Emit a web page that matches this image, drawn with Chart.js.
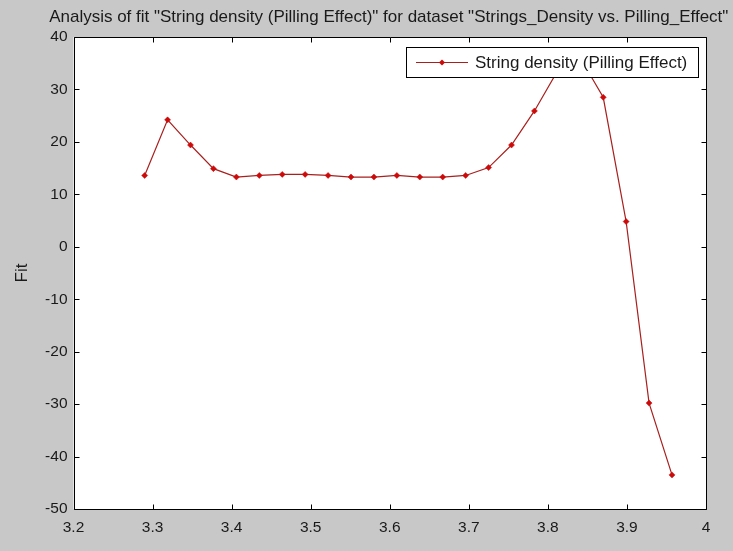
<!DOCTYPE html>
<html>
<head>
<meta charset="utf-8">
<script src="https://cdn.jsdelivr.net/npm/chart.js@4.4.1/dist/chart.umd.min.js"></script>
<style>
  html, body { margin: 0; padding: 0; background: #c8c8c8; }
  #wrap { width: 733px; height: 551px; }
</style>
</head>
<body>
<div id="wrap"><canvas id="c" width="733" height="551"></canvas></div>
<script>
// String density sample points and the fitted values
const xValues = [3.290, 3.319, 3.348, 3.377, 3.406, 3.435, 3.464, 3.493, 3.522, 3.551, 3.580, 3.609,
                 3.638, 3.667, 3.696, 3.725, 3.754, 3.783, 3.812, 3.841, 3.870, 3.899, 3.928, 3.957];
const fitValues = [13.6, 24.2, 19.4, 14.9, 13.3, 13.6, 13.8, 13.8, 13.6, 13.3, 13.3, 13.6,
                   13.3, 13.3, 13.6, 15.1, 19.4, 25.9, 33.5, 36.0, 28.5, 4.8, -29.8, -43.5];
const xTicks = [3.2, 3.3, 3.4, 3.5, 3.6, 3.7, 3.8, 3.9, 4];
const yTicks = [-50, -40, -30, -20, -10, 0, 10, 20, 30, 40];

const seriesName = 'String density (Pilling Effect)';
const titleText = 'Analysis of fit "String density (Pilling Effect)" for dataset "Strings_Density vs. Pilling_Effect"';
const yAxisName = 'Fit';

const FONT = '"Liberation Sans", Arial, sans-serif';
const LINE_COLOR = '#a8201e';
const MARK_COLOR = '#cc0a0a';
const TEXT_COLOR = '#1a1a1a';

const points = xValues.map((x, i) => ({ x: x, y: fitValues[i] }));

// Axes box, inward ticks on all four sides, title and boxed legend
const framePlugin = {
  id: 'frame',
  beforeDraw(chart) {
    const { ctx, chartArea: a } = chart;
    ctx.save();
    ctx.fillStyle = '#c8c8c8';
    ctx.fillRect(0, 0, chart.width, chart.height);
    ctx.fillStyle = '#ffffff';
    ctx.fillRect(a.left, a.top, a.right - a.left, a.bottom - a.top);
    ctx.restore();
  },
  afterDatasetsDraw(chart) {
    const { ctx, chartArea: a, scales } = chart;
    ctx.save();
    ctx.strokeStyle = '#000';
    ctx.lineWidth = 1;
    const L = Math.round(a.left) + 0.5, R = Math.round(a.right) + 0.5;
    const T = Math.round(a.top) + 0.5, B = Math.round(a.bottom) + 0.5;
    ctx.beginPath();
    ctx.rect(L, T, R - L, B - T);
    const tl = 5;
    xTicks.forEach(v => {
      const px = Math.round(scales.x.getPixelForValue(v)) + 0.5;
      ctx.moveTo(px, B); ctx.lineTo(px, B - tl);
      ctx.moveTo(px, T); ctx.lineTo(px, T + tl);
    });
    yTicks.forEach(v => {
      const py = Math.round(scales.y.getPixelForValue(v)) + 0.5;
      ctx.moveTo(L, py); ctx.lineTo(L + tl, py);
      ctx.moveTo(R, py); ctx.lineTo(R - tl, py);
    });
    ctx.stroke();
    ctx.restore();
  },
  afterDraw(chart) {
    const { ctx, chartArea: a } = chart;
    ctx.save();
    // title
    ctx.fillStyle = TEXT_COLOR;
    ctx.font = '17px ' + FONT;
    ctx.textAlign = 'center';
    ctx.textBaseline = 'middle';
    ctx.fillText(titleText, (a.left + a.right) / 2 - 1, 17);

    // legend
    const bx = 406.5, by = 47.5, bw = 292, bh = 30;
    ctx.fillStyle = '#ffffff';
    ctx.fillRect(bx, by, bw, bh);
    ctx.strokeStyle = '#000';
    ctx.lineWidth = 1;
    ctx.strokeRect(bx, by, bw, bh);
    const ly = by + bh / 2;
    ctx.strokeStyle = LINE_COLOR;
    ctx.lineWidth = 1.2;
    ctx.beginPath();
    ctx.moveTo(416, ly); ctx.lineTo(468, ly);
    ctx.stroke();
    ctx.fillStyle = MARK_COLOR;
    ctx.beginPath();
    ctx.moveTo(442, ly - 3); ctx.lineTo(445, ly); ctx.lineTo(442, ly + 3); ctx.lineTo(439, ly);
    ctx.closePath();
    ctx.fill();
    ctx.fillStyle = TEXT_COLOR;
    ctx.font = '17px ' + FONT;
    ctx.textAlign = 'left';
    ctx.textBaseline = 'middle';
    ctx.fillText(seriesName, 475, ly + 0.5);
    ctx.restore();
  }
};

new Chart(document.getElementById('c'), {
  type: 'scatter',
  data: {
    datasets: [{
      label: seriesName,
      data: points,
      showLine: true,
      borderColor: LINE_COLOR,
      borderWidth: 1.2,
      backgroundColor: MARK_COLOR,
      pointBackgroundColor: MARK_COLOR,
      pointBorderColor: MARK_COLOR,
      pointStyle: 'rectRot',
      pointRadius: 3,
      pointBorderWidth: 0.5,
      tension: 0
    }]
  },
  options: {
    responsive: false,
    animation: false,
    devicePixelRatio: 1,
    layout: { padding: { top: 37, right: 27, left: 0, bottom: 0 } },
    plugins: {
      legend: { display: false },
      tooltip: { enabled: false },
      title: { display: false }
    },
    scales: {
      x: {
        type: 'linear',
        min: 3.2, max: 4,
        grid: { display: false, drawTicks: false, tickLength: 0 },
        border: { display: false },
        afterFit(s) { s.height = 42; },
        afterBuildTicks(s) { s.ticks = xTicks.map(v => ({ value: v })); },
        ticks: {
          color: TEXT_COLOR,
          font: { family: FONT, size: 15.5 },
          padding: 9,
          maxRotation: 0,
          callback: v => String(v)
        }
      },
      y: {
        type: 'linear',
        min: -50, max: 40,
        grid: { display: false, drawTicks: false, tickLength: 0 },
        border: { display: false },
        afterFit(s) { s.width = 73.5; },
        afterBuildTicks(s) { s.ticks = yTicks.map(v => ({ value: v })); },
        title: {
          display: true,
          text: yAxisName,
          color: TEXT_COLOR,
          font: { family: FONT, size: 17 },
          padding: { top: 12, bottom: 0 }
        },
        ticks: {
          color: TEXT_COLOR,
          font: { family: FONT, size: 15.5 },
          padding: 6,
          callback: v => String(v)
        }
      }
    }
  },
  plugins: [framePlugin]
});
</script>
</body>
</html>
